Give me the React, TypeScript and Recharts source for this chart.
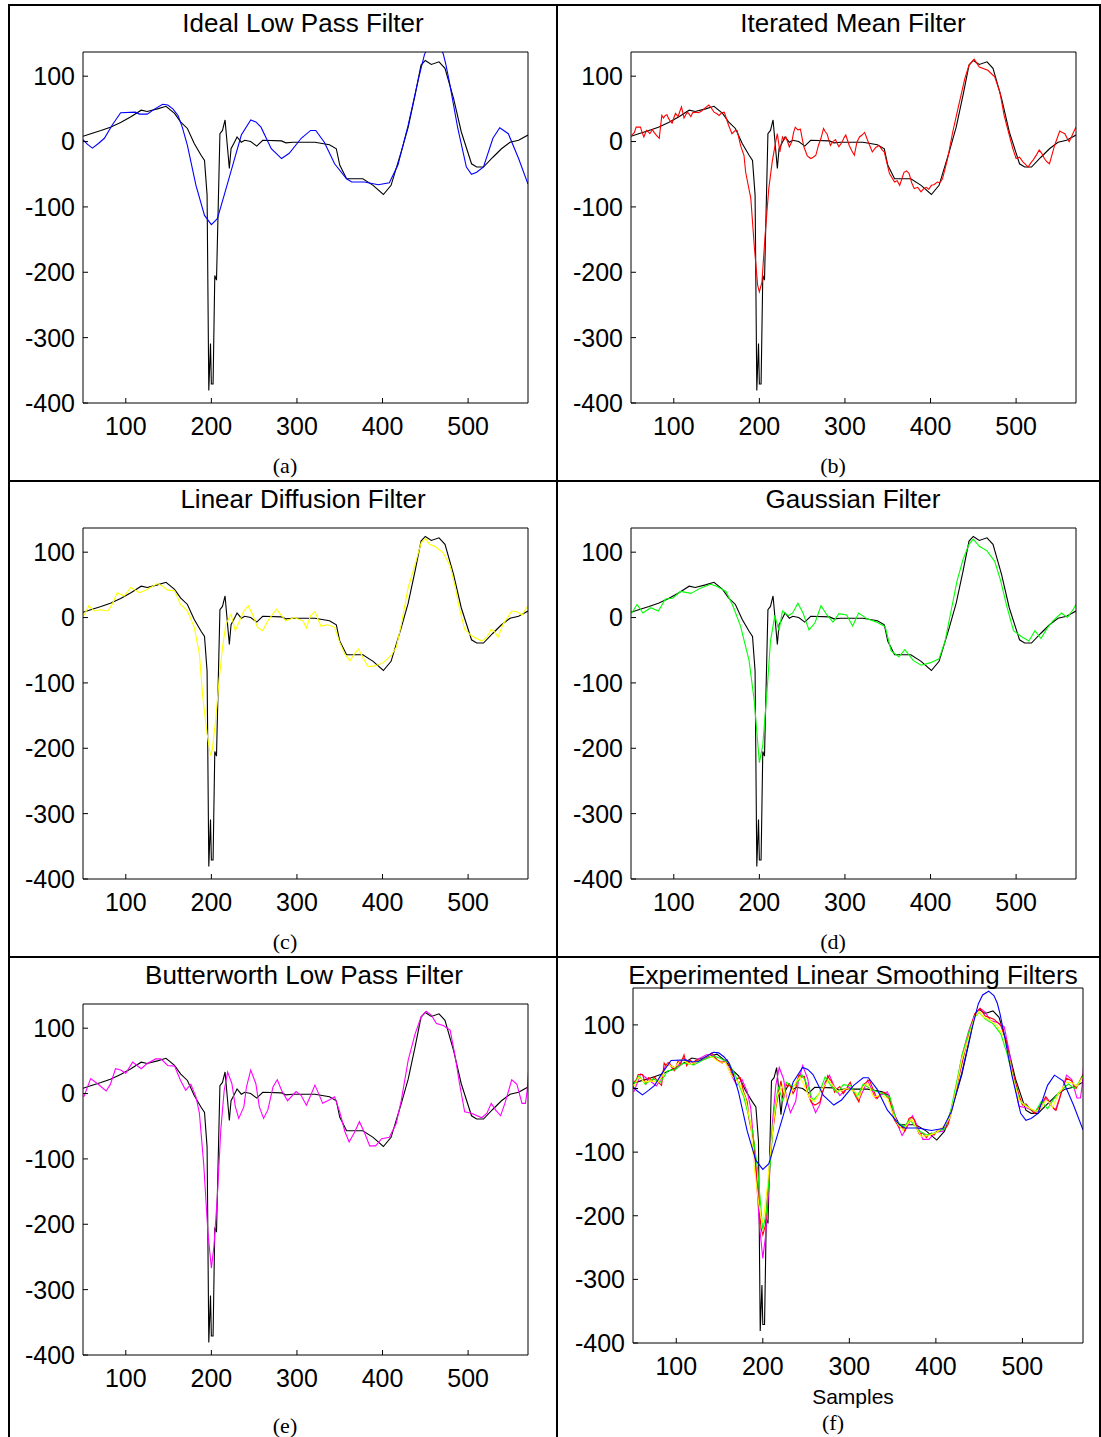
import { LineChart, Line, XAxis, YAxis } from 'recharts';

type Pt = [number, number];

const X_TICKS = [100, 200, 300, 400, 500];
const Y_TICKS = [-400, -300, -200, -100, 0, 100];
const X_DOMAIN: [number, number] = [50, 570];

// original ECG beat (black in every panel)
const original: Pt[] = [
  [50, 8], [59, 12], [71, 17], [82, 22], [94, 29], [106, 38], [118, 48], [125, 46], [137, 50], [147, 54],
  [157, 43], [164, 30], [172, 20], [180, -3], [188, -21], [192, -29], [195, -82], [197, -381], [199, -309],
  [200, -371], [202, -371], [204, -205], [206, -212], [210, 12], [213, 17], [216, 33], [221, -41], [223, -11],
  [227, -1], [230, 7], [235, -1], [239, 2], [246, 0], [253, -7], [260, 2], [282, 1], [287, -2], [295, -1],
  [321, -1], [338, -5], [346, -11], [350, -36], [358, -57], [377, -57], [389, -67], [401, -81], [410, -67],
  [422, -15], [430, 22], [438, 71], [445, 117], [450, 124], [457, 118], [466, 122], [473, 112], [483, 66],
  [492, 15], [504, -34], [510, -39], [518, -39], [529, -24], [539, -11], [549, -1], [559, 2], [570, 10],
];

const idealLowPass: Pt[] = [
  [50, 3], [55, -4], [61, -10], [68, -3], [75, 5], [84, 25], [94, 44], [111, 45], [116, 42], [125, 42],
  [134, 50], [143, 57], [149, 56], [155, 50], [161, 40], [166, 22], [172, -6], [182, -67], [192, -113],
  [200, -127], [207, -118], [215, -82], [225, -36], [235, 10], [246, 33], [252, 30], [258, 22], [270, -11],
  [282, -26], [291, -18], [305, 5], [316, 17], [322, 17], [332, -1], [344, -34], [358, -57], [364, -62],
  [379, -62], [395, -66], [408, -63], [418, -36], [430, 25], [442, 96], [449, 133], [454, 147], [461, 153],
  [467, 146], [471, 134], [474, 118], [478, 92], [488, 20], [498, -39], [504, -50], [510, -47], [518, -39],
  [529, 5], [537, 21], [547, 12], [559, -26], [570, -65],
];

const iteratedMean: Pt[] = [
  [51, 10], [54, 14], [56, 22], [61, 22], [63, 14], [65, 7], [68, 17], [70, 15], [72, 12], [75, 18], [77, 14],
  [80, 9], [83, 5], [86, 40], [88, 36], [90, 40], [92, 41], [94, 35], [96, 31], [98, 28], [100, 36], [102, 43],
  [105, 38], [107, 46], [109, 53], [112, 36], [114, 41], [116, 45], [118, 42], [120, 38], [122, 44], [125, 45],
  [129, 44], [133, 47], [137, 52], [141, 56], [144, 51], [147, 45], [150, 43], [153, 40], [156, 44], [159, 45],
  [162, 33], [164, 25], [168, 12], [171, 16], [174, 17], [178, -6], [182, -21], [184, -47],
  [190, -87], [194, -159], [198, -220], [200, -230], [203, -215], [207, -138], [211, -72], [215, -31],
  [219, -1], [221, 12], [224, -16], [227, 7], [229, 3], [231, 7], [235, -8], [238, 0], [240, 14], [242, 22],
  [245, 18], [248, 19], [250, 5], [252, -8], [256, -22], [260, -26], [263, -24], [266, -21], [269, -6],
  [272, 5], [275, 20], [277, 15], [279, 12], [283, -6], [286, 0], [289, 3], [291, -3], [293, -8], [297, 0],
  [299, 6], [301, 10], [303, 2], [305, -6], [308, -14], [311, -21], [314, -1], [317, 7], [320, 10], [323, 14],
  [327, 0], [332, -16], [336, -9], [340, -6], [343, -12], [346, -16],
  [352, -49], [358, -62], [361, -60], [364, -67], [367, -55], [369, -47], [372, -45], [375, -49], [378, -63],
  [381, -72], [385, -70], [389, -77], [392, -72], [395, -70], [398, -73], [401, -67], [404, -66],
  [408, -62], [411, -63], [414, -57], [420, -26], [426, 15], [432, 50], [440, 96], [445, 117], [451, 126], [457, 114],
  [467, 109], [475, 99], [481, 76], [486, 40], [492, 10], [496, -10], [500, -26], [504, -24], [508, -31],
  [511, -35], [514, -39], [517, -33], [520, -28], [524, -20], [527, -13], [530, -18], [533, -26], [536, -31],
  [539, -34], [542, -20], [545, -6], [548, 5], [551, 16], [554, 14], [557, 12], [560, 4], [562, 0], [565, 8],
  [568, 17], [570, 22],
];

const linearDiffusion: Pt[] = [
  [51, 3], [57, 18], [63, 10], [70, 12], [79, 10], [84, 20], [90, 38], [98, 33], [106, 46], [116, 38],
  [125, 43], [137, 52], [143, 48], [149, 42], [157, 41], [164, 20], [172, 10], [180, -15], [186, -56],
  [190, -122], [195, -178], [199, -211], [201, -203], [205, -157], [209, -96], [213, -46], [217, -10],
  [223, 5], [228, -20], [233, -5], [238, 10], [243, 18], [248, 5], [254, -15], [260, -20], [266, -5],
  [276, 13], [282, 3], [287, -5], [297, 0], [307, -5], [311, -16], [316, 3], [321, 9], [328, -13], [336, -11],
  [344, -15], [350, -38], [356, -56], [362, -66], [367, -56], [372, -48], [377, -61], [383, -75], [391, -74],
  [401, -69], [410, -58], [416, -46], [422, -10], [430, 46], [438, 81], [445, 114], [450, 121], [455, 112],
  [461, 109], [471, 99], [479, 79], [485, 46], [490, 13], [496, -18], [504, -28], [516, -36], [522, -30],
  [527, -18], [531, -22], [535, -30], [541, -10], [551, 10], [557, 9], [563, 4], [570, 18],
];

const gaussian: Pt[] = [
  [51, 7], [57, 20], [64, 7], [73, 15], [82, 10], [90, 28], [99, 30], [108, 40], [120, 37], [131, 45],
  [143, 51], [150, 48], [161, 40], [169, 18], [178, -13], [188, -66], [194, -127], [200, -222], [204, -195],
  [209, -112], [213, -36], [218, 3], [223, -20], [227, 10], [234, 3], [239, 7], [245, 22], [251, 7],
  [258, -19], [265, -8], [272, 18], [279, 4], [286, -7], [293, 6], [302, 4], [309, -13], [316, 7], [326, -2],
  [337, -7], [347, -14], [354, -51], [363, -60], [370, -49], [380, -66], [389, -73], [400, -69], [410, -63],
  [417, -36], [424, 10], [431, 56], [438, 89], [445, 112], [450, 120], [457, 109], [466, 102], [475, 86],
  [482, 56], [489, 18], [497, -20], [506, -29], [515, -36], [522, -20], [529, -32], [536, -17], [543, -5],
  [553, 7], [560, 0], [567, 13], [571, 22],
];

const butterworth: Pt[] = [
  [51, -5], [59, 23], [67, 15], [77, 4], [82, 14], [88, 38], [94, 36], [100, 31], [108, 48], [118, 38],
  [125, 46], [135, 53], [141, 53], [149, 43], [157, 42], [164, 20], [170, 5], [176, 14], [182, -5],
  [186, -30], [191, -107], [196, -213], [200, -267], [203, -234], [207, -157], [211, -56], [215, 5],
  [219, 33], [224, 15], [228, -20], [232, -38], [238, -20], [241, 10], [246, 36], [252, 15], [256, -20],
  [261, -38], [266, -25], [272, 10], [277, 21], [282, 5], [289, -11], [299, 3], [305, -3], [311, -18],
  [316, -3], [321, 13], [326, -2], [330, -15], [336, -11], [344, -5], [350, -28], [356, -58], [361, -74],
  [367, -60], [373, -43], [379, -60], [385, -80], [392, -80], [399, -69], [408, -67], [416, -46], [422, -10],
  [430, 51], [438, 91], [445, 117], [451, 126], [457, 120], [463, 107], [471, 104], [479, 97], [485, 56],
  [490, 15], [496, -28], [504, -30], [516, -37], [522, -30], [527, -15], [532, -25], [538, -34], [543, -15],
  [551, 21], [557, 14], [563, -15], [567, -15], [569, 4], [571, 41],
];

const SANS = "Arial, 'Liberation Sans', Helvetica, sans-serif";
const SERIF = "'Times New Roman', 'Liberation Serif', serif";

const toRows = (pts: Pt[]) => pts.map(([x, y]) => ({ x, y }));

interface Series {
  name: string;
  color: string;
  data: Pt[];
}

interface PanelProps {
  title: string;
  caption: string;
  left: number;
  top: number;
  width: number;
  height: number;
  yMax: number;
  titleX: number;
  titleY: number;
  captionX: number;
  captionY: number;
  series: Series[];
  xLabel?: string;
}

const Y_AXIS_W = 60;
const X_AXIS_H = 40;

const Panel = (p: PanelProps) => {
  const axisTick = { fill: '#000', fontSize: 25, fontFamily: SANS };
  return (
    <>
      <div
        style={{
          position: 'absolute',
          left: p.titleX,
          top: p.titleY,
          transform: 'translate(-50%, -50%)',
          fontFamily: SANS,
          fontSize: 26,
          lineHeight: 1,
          whiteSpace: 'nowrap',
        }}
      >
        {p.title}
      </div>
      <div style={{ position: 'absolute', left: p.left - Y_AXIS_W, top: p.top - 1 }}>
        <LineChart
          width={p.width + Y_AXIS_W + 1}
          height={p.height + X_AXIS_H + 1}
          margin={{ top: 0, right: 0, bottom: 0, left: 0 }}
        >
          <XAxis
            xAxisId="b"
            type="number"
            dataKey="x"
            domain={X_DOMAIN}
            ticks={X_TICKS}
            interval={0}
            allowDataOverflow
            height={X_AXIS_H}
            tickSize={-5}
            tickMargin={19}
            stroke="#000"
            tick={axisTick}
          />
          <XAxis
            xAxisId="t"
            orientation="top"
            type="number"
            dataKey="x"
            domain={X_DOMAIN}
            ticks={X_TICKS}
            interval={0}
            allowDataOverflow
            height={1}
            tickSize={-5}
            tick={false}
            stroke="#000"
          />
          <YAxis
            yAxisId="l"
            type="number"
            domain={[-400, p.yMax]}
            ticks={Y_TICKS}
            interval={0}
            allowDataOverflow
            width={Y_AXIS_W}
            tickSize={-5}
            tickMargin={13}
            stroke="#000"
            tick={axisTick}
          />
          <YAxis
            yAxisId="r"
            orientation="right"
            type="number"
            domain={[-400, p.yMax]}
            ticks={Y_TICKS}
            interval={0}
            allowDataOverflow
            width={1}
            tickSize={-5}
            tick={false}
            stroke="#000"
          />
          {p.series.map((s) => (
            <Line
              key={s.name}
              xAxisId="b"
              yAxisId="l"
              data={toRows(s.data)}
              dataKey="y"
              name={s.name}
              type="linear"
              stroke={s.color}
              strokeWidth={1.1}
              dot={false}
              isAnimationActive={false}
            />
          ))}
        </LineChart>
      </div>
      {p.xLabel && (
        <div
          style={{
            position: 'absolute',
            left: p.left + p.width / 2 - 5,
            top: p.top + p.height + 53,
            transform: 'translate(-50%, -50%)',
            fontFamily: SANS,
            fontSize: 21,
            lineHeight: 1,
          }}
        >
          {p.xLabel}
        </div>
      )}
      <div
        style={{
          position: 'absolute',
          left: p.captionX,
          top: p.captionY,
          transform: 'translate(-50%, -50%)',
          fontFamily: SERIF,
          fontSize: 22,
          lineHeight: 1,
        }}
      >
        {p.caption}
      </div>
    </>
  );
};

const black: Series = { name: 'Original', color: '#000000', data: original };
const blue: Series = { name: 'Ideal Low Pass', color: '#0000ff', data: idealLowPass };
const red: Series = { name: 'Iterated Mean', color: '#ff0000', data: iteratedMean };
const yellow: Series = { name: 'Linear Diffusion', color: '#ffff00', data: linearDiffusion };
const green: Series = { name: 'Gaussian', color: '#00ff00', data: gaussian };
const magenta: Series = { name: 'Butterworth', color: '#ff00ff', data: butterworth };

const Rule = ({ x, y, w, h }: { x: number; y: number; w: number; h: number }) => (
  <div style={{ position: 'absolute', left: x, top: y, width: w, height: h, background: '#000' }} />
);

const App = () => {
  return (
    <div
      style={{
        position: 'absolute',
        left: 0,
        top: 0,
        width: 1101,
        height: 1437,
        background: '#fff',
        overflow: 'hidden',
      }}
    >
      <Rule x={8} y={4} w={1093} h={2} />
      <Rule x={8} y={4} w={2} h={1433} />
      <Rule x={556} y={4} w={2} h={1433} />
      <Rule x={1099} y={4} w={2} h={1433} />
      <Rule x={8} y={480} w={1093} h={2} />
      <Rule x={8} y={956} w={1093} h={2} />

      <Panel title="Ideal Low Pass Filter" caption="(a)" left={83} top={52} width={445} height={351} yMax={137}
        titleX={303} titleY={23} captionX={285} captionY={466} series={[black, blue]} />
      <Panel title="Iterated Mean Filter" caption="(b)" left={631} top={52} width={445} height={351} yMax={137}
        titleX={853} titleY={23} captionX={833} captionY={466} series={[black, red]} />
      <Panel title="Linear Diffusion Filter" caption="(c)" left={83} top={528} width={445} height={351} yMax={137}
        titleX={303} titleY={499} captionX={285} captionY={942} series={[black, yellow]} />
      <Panel title="Gaussian Filter" caption="(d)" left={631} top={528} width={445} height={351} yMax={137}
        titleX={853} titleY={499} captionX={833} captionY={942} series={[black, green]} />
      <Panel title="Butterworth Low Pass Filter" caption="(e)" left={83} top={1004} width={445} height={351} yMax={137}
        titleX={304} titleY={975} captionX={285} captionY={1426} series={[black, magenta]} />
      <Panel title="Experimented Linear Smoothing Filters" caption="(f)" left={633} top={988} width={450} height={355}
        yMax={158} titleX={853} titleY={975} captionX={833} captionY={1423} xLabel="Samples"
        series={[black, magenta, red, green, yellow, blue]} />
    </div>
  );
};

export default App;
